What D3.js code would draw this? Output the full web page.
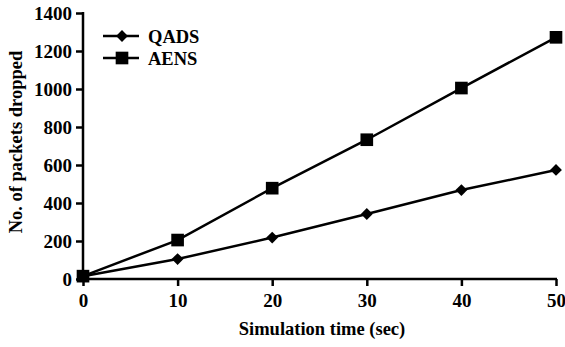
<!DOCTYPE html>
<html>
<head>
<meta charset="utf-8">
<script src="https://cdn.jsdelivr.net/npm/d3@7"></script>
<style>
  body { margin: 0; background: #fff; }
</style>
</head>
<body>
<div id="chart"></div>
<script>
var times = [0, 10, 20, 30, 40, 50];
var qads = [15, 105, 218, 342, 468, 574];
var aens = [15, 205, 478, 733, 1005, 1272];
var xTicks = [0, 10, 20, 30, 40, 50];
var yTicks = [0, 200, 400, 600, 800, 1000, 1200, 1400];
var seriesNames = ['QADS', 'AENS'];

var FONT = '"Liberation Serif", "Times New Roman", serif';

var width = 565,
    height = 347,
    margin = {left: 83, right: 9, top: 13, bottom: 68};

var svg = d3.select('#chart').append('svg')
    .attr('width', width)
    .attr('height', height);

var x = d3.scaleLinear().domain([0, 50]).range([margin.left, width - margin.right]);
var y = d3.scaleLinear().domain([0, 1400]).range([height - margin.bottom, margin.top]);

function serif(sel, size) {
    sel.style('font-family', FONT)
        .style('font-weight', 'bold')
        .style('font-size', size + 'px')
        .attr('fill', '#000');
}

// axes
var xAxis = svg.append('g')
    .attr('transform', 'translate(0,' + y(0) + ')')
    .call(d3.axisBottom(x).tickValues(xTicks).tickSize(7).tickPadding(8).tickFormat(d3.format('d')));
var yAxis = svg.append('g')
    .attr('transform', 'translate(' + x(0) + ',0)')
    .call(d3.axisLeft(y).tickValues(yTicks).tickSize(7).tickPadding(4).tickFormat(d3.format('d')));

[xAxis, yAxis].forEach(function(a) {
    a.attr('font-family', null).attr('font-size', null);
    a.select('.domain').attr('stroke', '#000').attr('stroke-width', 2.5);
    a.selectAll('.tick line').attr('stroke', '#000').attr('stroke-width', 2.5);
    a.selectAll('.tick text').call(serif, 19);
});
yAxis.select('.domain').attr('d', 'M0,' + y(0) + 'V' + (y(1400) - 1));
xAxis.select('.domain').attr('d', 'M' + x(0) + ',0H' + (x(50) + 1));

// titles
svg.append('text')
    .attr('x', 322)
    .attr('y', 335)
    .attr('text-anchor', 'middle')
    .call(serif, 18.5)
    .text('Simulation time (sec)');

svg.append('text')
    .attr('transform', 'translate(22,142) rotate(-90)')
    .attr('text-anchor', 'middle')
    .call(serif, 18.5)
    .text('No. of packets dropped');

// lines
var line = d3.line()
    .x(function(d, i) { return x(times[i]); })
    .y(function(d) { return y(d); });

var data = [qads, aens];
var square = d3.symbol().type(d3.symbolSquare).size(160);
var diamondSq = d3.symbol().type(d3.symbolSquare).size(70);

function markerTransform(k, tx, ty) {
    return 'translate(' + tx + ',' + ty + ') rotate(' + (k === 0 ? 45 : 0) + ')';
}

data.forEach(function(vals, k) {
    svg.append('path')
        .datum(vals)
        .attr('d', line)
        .attr('fill', 'none')
        .attr('stroke', '#000')
        .attr('stroke-width', 2.5);

    svg.selectAll('.m' + k)
        .data(vals)
        .enter().append('path')
        .attr('class', 'm' + k)
        .attr('transform', function(d, i) { return markerTransform(k, x(times[i]), y(d)); })
        .attr('d', k === 0 ? diamondSq : square)
        .attr('fill', '#000');
});

// legend
var legendY = [36, 58];
seriesNames.forEach(function(name, k) {
    var g = svg.append('g').attr('transform', 'translate(103,' + legendY[k] + ')');
    g.append('line').attr('x1', 0).attr('x2', 36).attr('stroke', '#000').attr('stroke-width', 2.5);
    g.append('path')
        .attr('transform', markerTransform(k, 19, 0))
        .attr('d', k === 0 ? diamondSq : square)
        .attr('fill', '#000');
    g.append('text').attr('x', 45).attr('y', 7)
        .call(serif, 18.5)
        .text(name);
});
</script>
</body>
</html>
